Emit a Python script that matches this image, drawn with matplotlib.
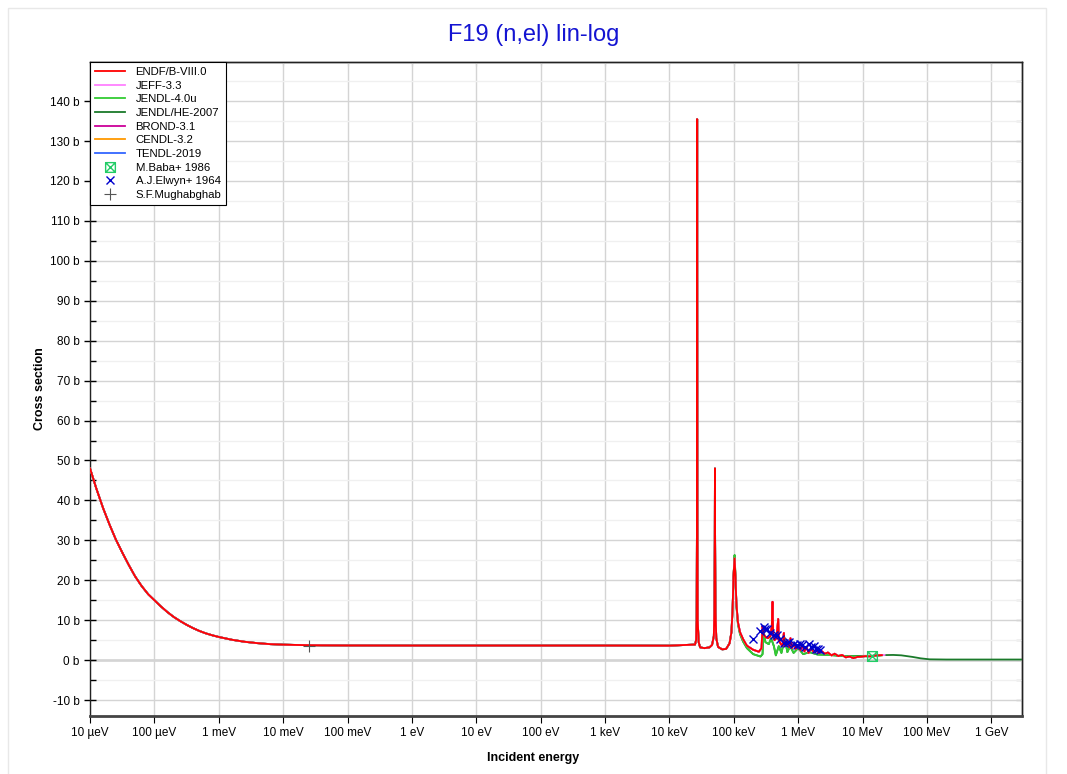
import numpy as np
import matplotlib.pyplot as plt
from matplotlib.path import Path
from matplotlib.patches import Rectangle
from matplotlib.ticker import FixedLocator, MultipleLocator, NullLocator, FuncFormatter

plt.rcParams['font.family'] = ['Liberation Sans', 'DejaVu Sans']

# thermal + resonance region, shared by all evaluations (eV, barn)
e_low = [1e-5, 1.25e-5, 1.6e-5, 2e-5, 2.5e-5, 3.2e-5, 4e-5, 5e-5, 6.3e-5, 8e-5,
         1e-4, 1.25e-4, 1.6e-4, 2e-4, 2.5e-4, 3.2e-4, 4e-4, 5e-4, 6.3e-4, 8e-4,
         1e-3, 1.6e-3, 2.5e-3, 4e-3, 6.3e-3, 1e-2, 1.6e-2, 2.5e-2, 4e-2, 0.1,
         1.0, 1e3, 1e4, 2.5e4, 2.6e4, 2.65e4, 2.68e4, 2.70e4, 2.72e4, 2.75e4,
         2.85e4, 3.0e4, 3.5e4, 4.2e4, 4.6e4, 4.9e4, 5.0e4, 5.07e4, 5.1e4, 5.13e4,
         5.2e4, 5.35e4, 5.7e4, 6.6e4, 7.6e4, 8.6e4, 9.2e4, 9.6e4, 9.9e4]
xs_low = [48.0, 43.0, 38.0, 34.0, 30.3, 26.8, 23.8, 21.0, 18.6, 16.5,
          15.0, 13.5, 12.0, 10.8, 9.8, 8.8, 8.0, 7.3, 6.7, 6.2,
          5.8, 5.1, 4.6, 4.25, 4.0, 3.88, 3.8, 3.74, 3.7, 3.67,
          3.65, 3.65, 3.62, 3.9, 5.0, 10.0, 35.0, 135.5, 35.0, 10.0,
          4.5, 3.2, 3.0, 3.2, 3.8, 6.0, 12.0, 30.0, 48.0, 30.0,
          12.0, 5.5, 3.3, 2.7, 2.8, 4.2, 7.0, 13.0, 21.0]

# ENDF/B-VIII.0 above 100 keV
e_endf = [1.03e5, 1.06e5, 1.1e5, 1.16e5, 1.25e5, 1.4e5, 1.6e5, 2e5, 2.45e5, 2.7e5,
          2.8e5, 2.9e5, 3.1e5, 3.4e5, 3.7e5, 3.9e5, 4.0e5, 4.1e5, 4.3e5, 4.6e5,
          4.9e5, 5.0e5, 5.3e5, 5.7e5, 6.0e5, 6.2e5, 6.7e5, 7.3e5, 7.6e5, 8.0e5,
          8.6e5, 9.2e5, 1.0e6, 1.08e6, 1.15e6, 1.25e6, 1.35e6, 1.45e6, 1.6e6, 1.75e6,
          1.9e6, 2.1e6, 2.3e6, 2.6e6, 2.9e6, 3.3e6, 3.7e6, 4.2e6, 4.8e6, 5.5e6,
          6.3e6, 7.2e6, 8.3e6, 9.5e6, 1.1e7, 1.3e7, 1.5e7, 1.7e7, 2.0e7]
xs_endf = [25.5, 21.0, 14.0, 9.5, 7.0, 5.2, 3.6, 2.6, 2.1, 3.0,
           8.5, 6.5, 5.8, 5.5, 6.0, 8.5, 14.6, 6.0, 5.0, 5.5,
           10.3, 5.0, 4.2, 3.5, 6.8, 3.5, 4.8, 3.2, 5.5, 3.0,
           4.2, 2.8, 3.7, 2.5, 3.9, 2.2, 3.3, 1.8, 3.0, 1.9,
           2.6, 1.7, 2.3, 1.6, 1.9, 1.2, 1.6, 1.0, 1.3, 0.7,
           0.9, 0.5, 0.8, 0.85, 1.0, 0.95, 1.1, 1.2, 1.25]

# JENDL-4.0u above 100 keV
e_jendl4 = [1.03e5, 1.06e5, 1.1e5, 1.16e5, 1.25e5, 1.4e5, 1.6e5, 2e5, 2.6e5, 2.8e5,
            2.9e5, 3.1e5, 3.5e5, 3.8e5, 4.2e5, 4.5e5, 5e5, 5.5e5, 6.2e5, 6.8e5,
            7.5e5, 8.5e5, 1e6, 1.2e6, 1.5e6, 2e6, 3e6, 5e6, 1e7, 2e7]
xs_jendl4 = [26.3, 21.5, 13.5, 9.0, 6.5, 4.6, 3.0, 1.5, 0.9, 1.5,
             7.5, 4.5, 4.0, 5.5, 3.5, 1.2, 3.5, 1.8, 5.5, 2.0,
             3.5, 1.8, 3.0, 1.5, 2.0, 1.4, 1.3, 1.0, 0.9, 1.2]

# JENDL/HE-2007 high energy tail
e_he = [1.5e7, 2e7, 3e7, 4e7, 6e7, 8e7, 1.1e8, 2e8, 1e9, 3e9]
xs_he = [1.1, 1.25, 1.3, 1.2, 0.8, 0.45, 0.2, 0.15, 0.15, 0.15]

# experimental data
e_elwyn = [2.0e5, 2.6e5, 2.9e5, 3.1e5, 3.3e5, 3.7e5, 4.2e5, 4.7e5, 5.2e5, 6.0e5,
           6.8e5, 7.3e5, 8.5e5, 9.5e5, 1.05e6, 1.15e6, 1.3e6, 1.45e6, 1.6e6, 1.75e6,
           1.9e6, 2.05e6, 2.2e6]
xs_elwyn = [5.2, 7.25, 8.2, 7.9, 7.75, 6.8, 6.4, 6.25, 5.3, 4.4,
            4.3, 4.6, 4.1, 3.75, 4.0, 3.8, 3.3, 4.0, 3.2, 3.5,
            2.9, 2.7, 2.5]
e_baba = [1.41e7]
xs_baba = [0.95]
e_mugh = [0.0253]
xs_mugh = [3.64]

e_endf_all = np.concatenate([e_low, e_endf])
xs_endf_all = np.concatenate([xs_low, xs_endf])
e_j4_all = np.concatenate([e_low, e_jendl4])
xs_j4_all = np.concatenate([xs_low, xs_jendl4])
e_he_all = np.concatenate([e_low, e_jendl4[:-2], e_he])
xs_he_all = np.concatenate([xs_low, xs_jendl4[:-2], xs_he])

energy_ticks = [1e-5, 1e-4, 1e-3, 1e-2, 1e-1, 1, 10, 100, 1e3, 1e4, 1e5, 1e6, 1e7, 1e8, 1e9]
energy_labels = ['10 µeV', '100 µeV', '1 meV', '10 meV', '100 meV', '1 eV', '10 eV',
                 '100 eV', '1 keV', '10 keV', '100 keV', '1 MeV', '10 MeV', '100 MeV', '1 GeV']

fig = plt.figure(figsize=(10.67, 7.74), dpi=100)
fig.patches.append(Rectangle((8 / 1067, -0.01), 1038 / 1067, 1.0, transform=fig.transFigure,
                             fc='white', ec='#e8e8e8', lw=1, zorder=-5))
ax = fig.add_axes([0.0844, 0.0749, 0.8734, 0.845])

# hidden libraries (under ENDF)
ax.plot(e_endf_all, xs_endf_all, color='#3366ff', lw=1.3, label='TENDL-2019', zorder=2)
ax.plot(e_endf_all, xs_endf_all, color='#ff9900', lw=1.3, label='CENDL-3.2', zorder=2)
ax.plot(e_endf_all, xs_endf_all, color='#cc0099', lw=1.3, label='BROND-3.1', zorder=2)
ax.plot(e_he_all, xs_he_all, color='#1a7a2a', lw=1.3, label='JENDL/HE-2007', zorder=3)
ax.plot(e_j4_all, xs_j4_all, color='#33cc33', lw=1.3, label='JENDL-4.0u', zorder=4)
ax.plot(np.concatenate([e_endf_all, [2.2e7]]), np.concatenate([xs_endf_all, [1.3]]),
        color='#ff80ff', lw=1.3, label='JEFF-3.3', zorder=4)
ax.plot(e_endf_all, xs_endf_all, color='#ff0000', lw=1.3, label='ENDF/B-VIII.0', zorder=5)

boxx = Path([(-1, -1), (1, -1), (1, 1), (-1, 1), (-1, -1), (1, 1), (-1, 1), (1, -1)],
            [Path.MOVETO, Path.LINETO, Path.LINETO, Path.LINETO, Path.LINETO,
             Path.LINETO, Path.MOVETO, Path.LINETO])
ax.plot(e_baba, xs_baba, ls='none', marker=boxx, ms=7, mfc='none', mec='#22cc66',
        mew=1, label='M.Baba+ 1986', zorder=6)
ax.plot(e_elwyn, xs_elwyn, ls='none', marker='x', ms=5.5, color='#0000cc', mew=1,
        label='A.J.Elwyn+ 1964', zorder=6)
ax.plot(e_mugh, xs_mugh, ls='none', marker='+', ms=8, color='#555555', mew=0.8,
        label='S.F.Mughabghab', zorder=6)

ax.set_xscale('log')
ax.set_xlim(1e-5, 3e9)
ax.set_ylim(-14, 149.8)

ax.xaxis.set_major_locator(FixedLocator(energy_ticks))
ax.set_xticklabels(energy_labels)
ax.xaxis.set_minor_locator(NullLocator())
ax.yaxis.set_major_locator(MultipleLocator(10))
ax.yaxis.set_minor_locator(MultipleLocator(5))
ax.yaxis.set_major_formatter(FuncFormatter(lambda v, p: '%d b' % v))

ax.grid(True, which='major', color='#d4d4d4', lw=1)
ax.grid(True, which='minor', axis='y', color='#f0f0f0', lw=1)
ax.axhline(0, color='#d8d8d8', lw=2, zorder=0.5)
ax.set_axisbelow(True)

ax.tick_params(axis='y', which='major', direction='inout', length=8, labelsize=8.5, width=1)
ax.tick_params(axis='y', which='minor', direction='in', length=4, width=1)
ax.tick_params(axis='x', which='major', direction='out', length=5, labelsize=8.5, pad=3)

# right and top ticks point inward
right = ax.secondary_yaxis('right')
right.yaxis.set_major_locator(MultipleLocator(5))
right.tick_params(direction='in', length=4, labelright=False)
top = ax.secondary_xaxis('top')
top.xaxis.set_major_locator(FixedLocator(energy_ticks))
top.xaxis.set_minor_locator(NullLocator())
top.tick_params(direction='in', length=3, labeltop=False, color='#777777')

for sp in [ax.spines['left'], ax.spines['right'], ax.spines['top'],
           right.spines['right'], top.spines['top']]:
    sp.set_color('#222222')
    sp.set_linewidth(1)
ax.spines['bottom'].set_color('#444444')
ax.spines['bottom'].set_linewidth(2)

fig.text(0.5, 1 - 35 / 774, 'F19 (n,el) lin-log', color='#1414d2', fontsize=17,
         ha='center', va='center')
fig.text(0.5, 1 - 758 / 774, 'Incident energy', fontsize=9, fontweight='bold',
         ha='center', va='center')
ax.set_ylabel('Cross section', fontsize=9, fontweight='bold', labelpad=3)

order = ['ENDF/B-VIII.0', 'JEFF-3.3', 'JENDL-4.0u', 'JENDL/HE-2007', 'BROND-3.1',
         'CENDL-3.2', 'TENDL-2019', 'M.Baba+ 1986', 'A.J.Elwyn+ 1964', 'S.F.Mughabghab']
handles, labels = ax.get_legend_handles_labels()
hmap = dict(zip(labels, handles))
leg = ax.legend([hmap[k] for k in order], order, loc='upper left', fontsize=8.2,
                fancybox=False, edgecolor='black', framealpha=1, borderaxespad=0,
                handlelength=2.6, labelspacing=0.32, borderpad=0.45, handletextpad=0.95)
leg.get_frame().set_linewidth(0.8)

fig.savefig('out.png', dpi=100)
